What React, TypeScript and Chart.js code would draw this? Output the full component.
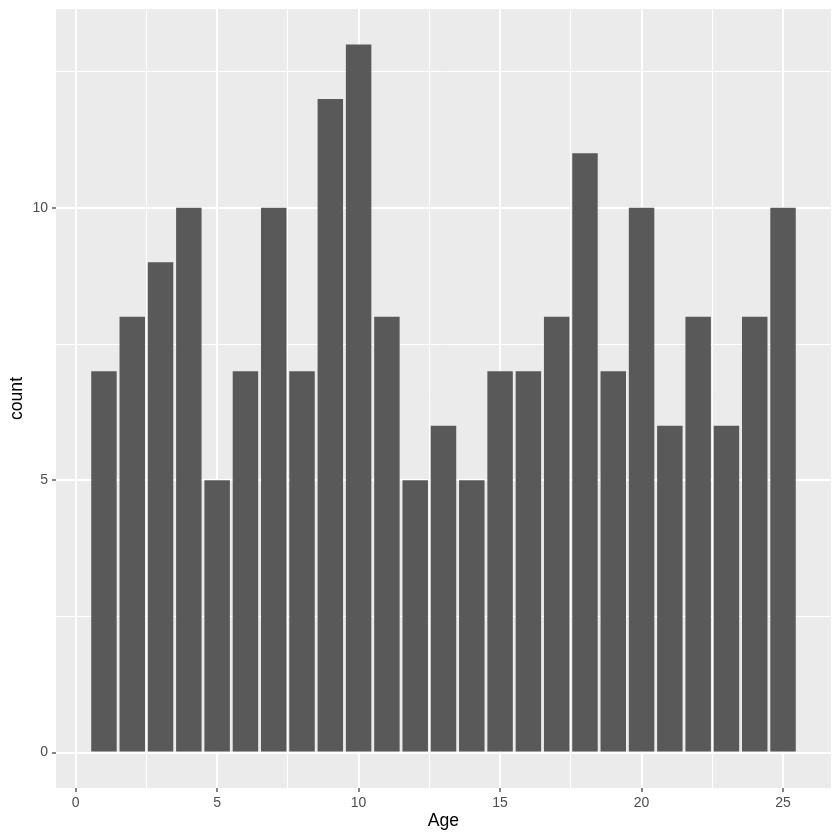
import React, { useEffect, useRef } from "react";
import { Chart, registerables } from "chart.js";

Chart.register(...registerables);

const ages = [1, 2, 3, 4, 5, 6, 7, 8, 9, 10, 11, 12, 13, 14, 15, 16, 17, 18, 19, 20, 21, 22, 23, 24, 25];
const counts = [7, 8, 9, 10, 5, 7, 10, 7, 12, 13, 8, 5, 6, 5, 7, 7, 8, 11, 7, 10, 6, 8, 6, 8, 10];
const xTicks = [0, 2.5, 5, 7.5, 10, 12.5, 15, 17.5, 20, 22.5, 25];
const yTicks = [0, 2.5, 5, 7.5, 10, 12.5];
const xRange = [-0.695, 26.695];
const yRange = [-0.65, 13.65];

const isMajor = (v: number) => Math.abs(v % 5) < 1e-9;
const tickVal = (c: any) => (c && c.tick ? c.tick.value : 0);

const panelBg = {
  id: "panelBg",
  beforeDraw(chart: any) {
    const { ctx, chartArea } = chart;
    ctx.save();
    ctx.fillStyle = "#EBEBEB";
    ctx.fillRect(chartArea.left, chartArea.top, chartArea.right - chartArea.left, chartArea.bottom - chartArea.top);
    ctx.restore();
  },
};

const gridOpts = {
  color: "#FFFFFF",
  offset: false,
  lineWidth: (c: any) => (isMajor(tickVal(c)) ? 2 : 1),
  tickColor: (c: any) => (isMajor(tickVal(c)) ? "#333333" : "rgba(0,0,0,0)"),
  tickLength: 4,
  tickWidth: 1.2,
};

const tickFont = { family: "Liberation Sans, Arial, sans-serif", size: 14 };
const titleFont = { family: "Liberation Sans, Arial, sans-serif", size: 17.6 };

export default function App() {
  const ref = useRef<HTMLCanvasElement>(null);
  useEffect(() => {
    if (!ref.current) return;
    const chart = new Chart(ref.current, {
      type: "bar",
      data: {
        datasets: [
          {
            data: ages.map((a, i) => ({ x: a, y: counts[i] })),
            backgroundColor: "#595959",
            borderWidth: 0,
            categoryPercentage: 1,
            barPercentage: 0.9,
          },
        ],
      },
      options: {
        responsive: false,
        animation: false,
        layout: { padding: { top: 9, right: 9, left: 0, bottom: 0 } },
        plugins: { legend: { display: false }, tooltip: { enabled: false } },
        scales: {
          x: {
            type: "linear",
            offset: false,
            min: xRange[0],
            max: xRange[1],
            afterBuildTicks: (s: any) => {
              s.ticks = xTicks.map((v) => ({ value: v }));
            },
            afterFit: (s: any) => {
              s.height = 52;
              s.paddingLeft = 0;
              s.paddingRight = 0;
            },
            grid: gridOpts,
            border: { display: false },
            ticks: {
              autoSkip: false,
              maxRotation: 0,
              padding: 2.5,
              color: "#4D4D4D",
              font: tickFont,
              callback: (v: any) => (isMajor(Number(v)) ? String(v) : ""),
            },
            title: {
              display: true,
              text: "Age",
              color: "#000000",
              font: titleFont,
              padding: { top: 0, bottom: 8.4 },
            },
          },
          y: {
            type: "linear",
            min: yRange[0],
            max: yRange[1],
            afterBuildTicks: (s: any) => {
              s.ticks = yTicks.map((v) => ({ value: v }));
            },
            afterFit: (s: any) => {
              s.width = 56;
              s.paddingTop = 0;
              s.paddingBottom = 0;
            },
            grid: gridOpts,
            border: { display: false },
            ticks: {
              autoSkip: false,
              padding: 4,
              color: "#4D4D4D",
              font: tickFont,
              callback: (v: any) => (isMajor(Number(v)) ? String(v) : ""),
            },
            title: {
              display: true,
              text: "count",
              color: "#000000",
              font: titleFont,
              padding: { top: 6.4, bottom: 0 },
            },
          },
        },
      },
      plugins: [panelBg],
    });
    return () => chart.destroy();
  }, []);
  return (
    <div style={{ position: "absolute", left: 0, top: 0, width: 840, height: 840, background: "#fff" }}>
      <canvas ref={ref} width={840} height={840} />
    </div>
  );
}
